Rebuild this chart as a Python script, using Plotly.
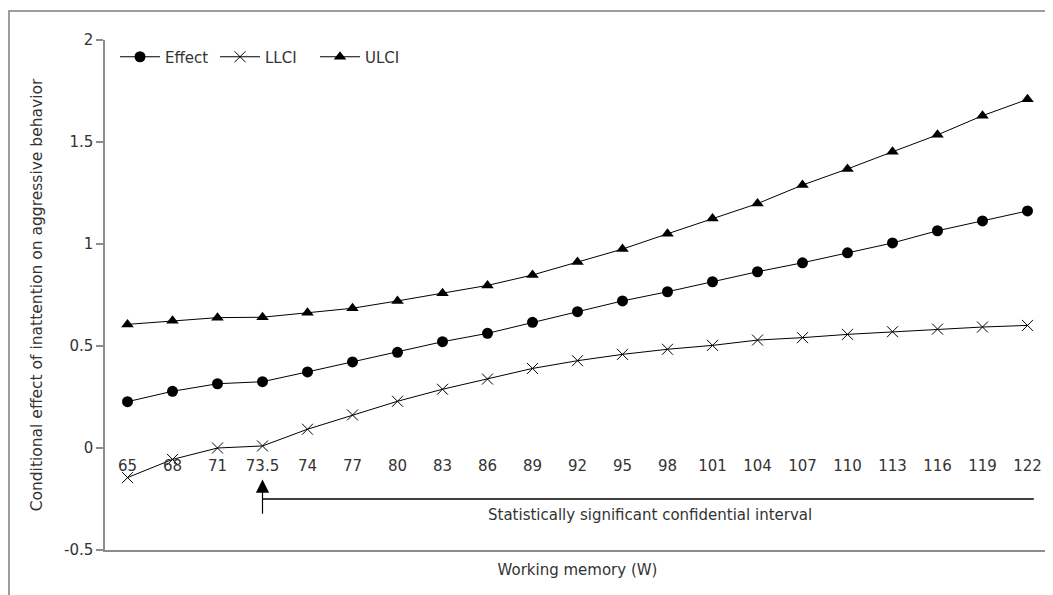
import plotly.graph_objects as go

# ---- data ----
working_memory = ["65", "68", "71", "73.5", "74", "77", "80", "83", "86", "89", "92",
                  "95", "98", "101", "104", "107", "110", "113", "116", "119", "122"]
effect = [0.227, 0.278, 0.315, 0.325, 0.373, 0.422, 0.469, 0.521, 0.562, 0.616, 0.668,
          0.721, 0.766, 0.815, 0.864, 0.908, 0.957, 1.005, 1.065, 1.113, 1.162]
llci = [-0.145, -0.056, 0.000, 0.010, 0.092, 0.162, 0.229, 0.288, 0.338, 0.390, 0.428,
        0.459, 0.484, 0.503, 0.529, 0.541, 0.557, 0.570, 0.583, 0.593, 0.601]
ulci = [0.606, 0.624, 0.639, 0.641, 0.663, 0.685, 0.721, 0.758, 0.797, 0.848, 0.912,
        0.975, 1.050, 1.125, 1.198, 1.289, 1.368, 1.452, 1.535, 1.629, 1.709]
y_tickvals = [-0.5, 0, 0.5, 1, 1.5, 2]
y_ticktext = ["-0.5", "0", "0.5", "1", "1.5", "2"]
significance_start = "73.5"
significance_label = "Statistically significant confidential interval"

FONT = "'DejaVu Sans', sans-serif"
FS = 15
TXT = "#333333"
AX = "#8c8c8c"

fig = go.Figure()
fig.add_trace(go.Scatter(x=working_memory, y=effect, name="Effect", mode="lines+markers",
                         line=dict(color="black", width=1),
                         marker=dict(symbol="circle", size=11, color="black")))
fig.add_trace(go.Scatter(x=working_memory, y=llci, name="LLCI", mode="lines+markers",
                         line=dict(color="black", width=1),
                         marker=dict(symbol="x-thin", size=11, color="black",
                                     line=dict(color="black", width=1))))
fig.add_trace(go.Scatter(x=working_memory, y=ulci, name="ULCI", mode="lines+markers",
                         line=dict(color="black", width=1),
                         marker=dict(symbol="triangle-up", size=11, color="black")))
# invisible trace carrying the tick labels on the axis that crosses at y = 0
fig.add_trace(go.Scatter(x=working_memory, y=effect, xaxis="x2", mode="markers",
                         marker=dict(opacity=0), showlegend=False, hoverinfo="skip"))

start_idx = working_memory.index(significance_start)
last_idx = len(working_memory) - 1

# arrow pointing to the start of the significant region
fig.add_annotation(x=start_idx, y=-0.155, ax=start_idx, ay=-0.33, xref="x", yref="y",
                   axref="x", ayref="y", text="", showarrow=True,
                   arrowhead=2, arrowsize=2.2, arrowwidth=1.2, arrowcolor="black")
fig.add_shape(type="line", xref="x", yref="y", x0=start_idx, x1=last_idx + 0.14,
              y0=-0.25, y1=-0.25, line=dict(color="black", width=1.5))
fig.add_annotation(x=(start_idx + last_idx) / 2 + 0.1, y=-0.33, xref="x", yref="y",
                   text=significance_label, showarrow=False,
                   font=dict(size=FS, color=TXT, family=FONT))

# outer frame
fig.add_shape(type="rect", xref="paper", yref="paper", x0=-0.1016, x1=1.1, y0=-0.2, y1=1.057,
              line=dict(color="#7f7f7f", width=1.5), layer="below")

fig.update_layout(
    width=1045, height=587,
    margin=dict(l=97, r=3, t=32, b=45),
    paper_bgcolor="white", plot_bgcolor="white",
    font=dict(family=FONT, size=FS, color=TXT),
    showlegend=True,
    legend=dict(orientation="h", x=0.0106, y=0.999, xanchor="left", yanchor="top",
                bgcolor="rgba(0,0,0,0)", font=dict(size=FS, color=TXT),
                itemwidth=40, tracegroupgap=0, entrywidth=45),
    xaxis=dict(type="category", categoryorder="array", categoryarray=working_memory,
               range=[-0.5, len(working_memory) - 0.5],
               showline=True, linecolor=AX, linewidth=1.5, showticklabels=False,
               ticks="", showgrid=False, zeroline=False, automargin=False,
               title=dict(text="Working memory (W)", standoff=14,
                          font=dict(size=FS, color=TXT))),
    xaxis2=dict(type="category", categoryorder="array", categoryarray=working_memory,
                matches="x", overlaying="x", anchor="free", position=0.2,
                showline=False, showgrid=False, zeroline=False,
                ticks="outside", ticklen=4, tickcolor="rgba(0,0,0,0)",
                tickfont=dict(size=FS, color=TXT), automargin=False),
    yaxis=dict(range=[-0.5, 2], tickmode="array", tickvals=y_tickvals, ticktext=y_ticktext,
               showline=True, linecolor=AX, linewidth=1.5, ticks="outside", ticklen=7,
               tickcolor=AX, tickwidth=1.5, showgrid=False, zeroline=False, automargin=False,
               tickfont=dict(size=FS, color=TXT),
               title=dict(text="Conditional effect of inattention on aggressive behavior",
                          standoff=18, font=dict(size=15.5, color=TXT))),
)

fig.write_html("out.html")
